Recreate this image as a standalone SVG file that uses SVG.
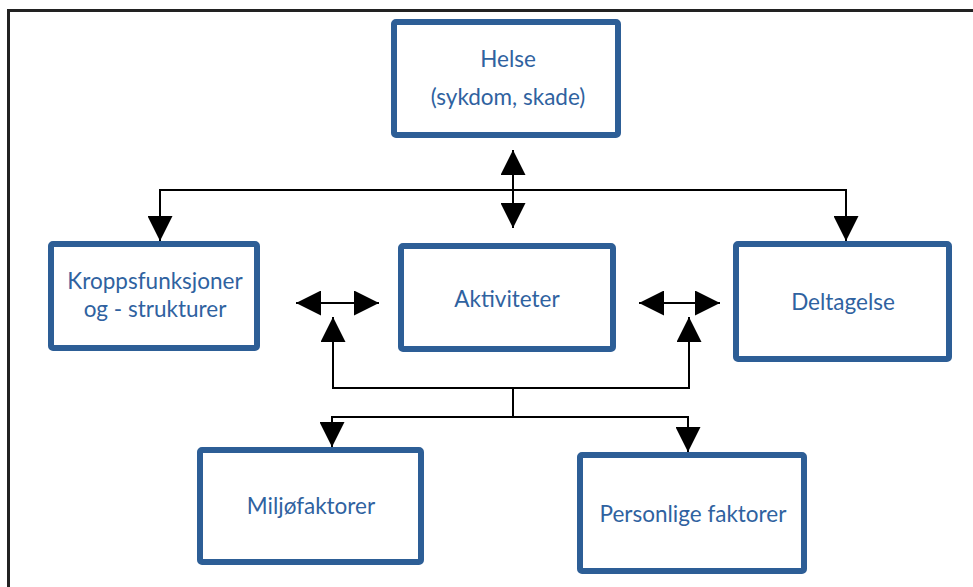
<svg xmlns="http://www.w3.org/2000/svg" width="973" height="587" viewBox="0 0 973 587">
<style>
.box{fill:#fff;stroke:#2D5E96;stroke-width:6}
.lbl{font-family:Lato,"Liberation Sans",sans-serif;font-size:22.5px;fill:#2F62A0;text-anchor:middle}
.con{fill:none;stroke:#000;stroke-width:2}
</style>
<defs>
<marker id="ah" viewBox="0 0 25 25" refX="25" refY="12.5" markerWidth="25" markerHeight="25" markerUnits="userSpaceOnUse" orient="auto-start-reverse">
<path d="M0,0 L25,12.5 L0,25 Z" fill="#000"/>
</marker>
</defs>
<rect x="0" y="0" width="973" height="587" fill="#fff"/>
<rect x="8.5" y="10.5" width="1000" height="700" fill="none" stroke="#222" stroke-width="3"/>
<g id="connectors">
<path class="con" d="M513,150 V228" marker-start="url(#ah)" marker-end="url(#ah)"/>
<path class="con" d="M513,190 H160 V241" marker-end="url(#ah)"/>
<path class="con" d="M513,190 H846 V241" marker-end="url(#ah)"/>
<path class="con" d="M296,303 H379" marker-start="url(#ah)" marker-end="url(#ah)"/>
<path class="con" d="M639,303 H720" marker-start="url(#ah)" marker-end="url(#ah)"/>
<path class="con" d="M513,388 H333 V317" marker-end="url(#ah)"/>
<path class="con" d="M513,388 H689 V317" marker-end="url(#ah)"/>
<path class="con" d="M513,388 V417"/>
<path class="con" d="M513,417 H332 V447" marker-end="url(#ah)"/>
<path class="con" d="M513,417 H688 V452" marker-end="url(#ah)"/>
</g>
<g id="helse">
<rect class="box" x="394" y="22" width="224" height="113" rx="2"/>
<text class="lbl" x="508" y="67">Helse</text>
<text class="lbl" x="508" y="105">(sykdom, skade)</text>
</g>
<g id="kropp">
<rect class="box" x="51" y="244" width="206" height="104" rx="2"/>
<text class="lbl" x="155" y="289">Kroppsfunksjoner</text>
<text class="lbl" x="155" y="317">og - strukturer</text>
</g>
<g id="aktiviteter">
<rect class="box" x="401" y="246" width="212" height="103" rx="2"/>
<text class="lbl" x="507" y="307">Aktiviteter</text>
</g>
<g id="deltagelse">
<rect class="box" x="736" y="244" width="213" height="115" rx="2"/>
<text class="lbl" x="843" y="310">Deltagelse</text>
</g>
<g id="miljo">
<rect class="box" x="200" y="450" width="221" height="112" rx="2"/>
<text class="lbl" x="311" y="514">Miljøfaktorer</text>
</g>
<g id="personlige">
<rect class="box" x="580" y="455" width="224" height="116" rx="2"/>
<text class="lbl" x="693" y="522">Personlige faktorer</text>
</g>
</svg>
